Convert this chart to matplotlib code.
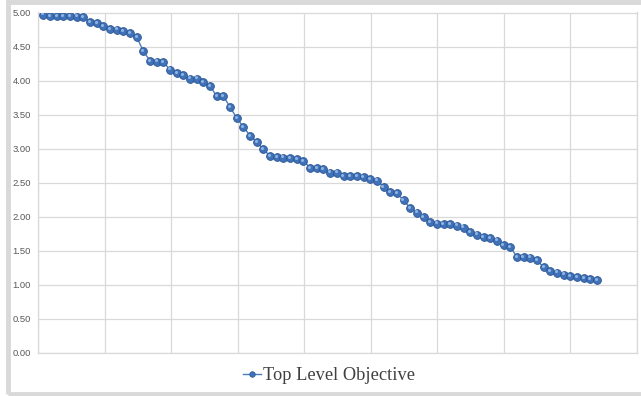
import matplotlib.pyplot as plt
import matplotlib.transforms as mtransforms
from matplotlib.patches import Rectangle
import numpy as np

# values, one point per step
objective = [4.97, 4.95, 4.95, 4.95, 4.95, 4.94, 4.93, 4.86, 4.84, 4.80,
             4.76, 4.75, 4.73, 4.70, 4.64, 4.43, 4.29, 4.28, 4.27, 4.16,
             4.11, 4.08, 4.03, 4.03, 3.98, 3.92, 3.77, 3.77, 3.61, 3.45,
             3.32, 3.19, 3.10, 2.99, 2.89, 2.88, 2.87, 2.86, 2.85, 2.82,
             2.72, 2.72, 2.70, 2.65, 2.65, 2.60, 2.60, 2.60, 2.58, 2.55,
             2.53, 2.44, 2.36, 2.35, 2.24, 2.13, 2.06, 1.99, 1.92, 1.90,
             1.89, 1.89, 1.87, 1.84, 1.77, 1.74, 1.70, 1.69, 1.65, 1.58,
             1.56, 1.41, 1.41, 1.40, 1.36, 1.26, 1.20, 1.18, 1.15, 1.13,
             1.11, 1.10, 1.08, 1.07]
series_name = 'Top Level Objective'
y_ticks = [0.0, 0.5, 1.0, 1.5, 2.0, 2.5, 3.0, 3.5, 4.0, 4.5, 5.0]

x = np.arange(len(objective))

fig = plt.figure(figsize=(6.41, 3.96), dpi=100)
fig.patch.set_facecolor('white')
# grey chart-area frame
fig.patches.append(Rectangle((8/641, 2/396), 1.0, 392/396, transform=fig.transFigure,
                             fill=False, edgecolor='#d9d9d9', linewidth=3.5))

ax = fig.add_axes([38/641, 43/396, 599/641, 340.5/396])
xmin, xmax = -0.8, 89.0
ax.set_xlim(xmin, xmax)
ax.set_ylim(0, 5)

ax.plot(x, objective, color='#4a7ebb', linewidth=1.0, marker='o', markersize=5.6,
        markerfacecolor='#3f72b8', markeredgecolor='#2b5593', markeredgewidth=0.6,
        label=series_name, zorder=3)
# little highlight so the markers look like beads
hl = mtransforms.offset_copy(ax.transData, fig=fig, x=-0.8, y=0.9, units='points')
ax.plot(x, objective, linestyle='none', marker='o', markersize=2.2,
        markerfacecolor='#8fb4e3', markeredgewidth=0, transform=hl, zorder=4)

ax.set_yticks(y_ticks)
ax.set_yticklabels(['%.2f' % v for v in y_ticks], fontsize=6.8, color='#595959',
                   family='Liberation Sans')
ax.set_xticks(np.linspace(xmin, xmax, 10))
ax.set_xticklabels([])
ax.tick_params(length=0, pad=5)
ax.grid(True, color='#d9d9d9', linewidth=0.9)
ax.set_axisbelow(True)
for s in ax.spines.values():
    s.set_color('#d9d9d9')
    s.set_linewidth(0.9)

h, = ax.plot([], [], color='#4a7ebb', linewidth=1.0, marker='o', markersize=4,
             markerfacecolor='#3f72b8', markeredgecolor='#2b5593', markeredgewidth=0.5)
fig.legend([h], [series_name], loc='center', bbox_to_anchor=(329/641, 1 - 376/396),
           frameon=False, handlelength=1.0, handletextpad=0.1,
           prop={'family': 'Liberation Serif', 'size': 13.2}, labelcolor='#404040')

fig.savefig('out.png', dpi=100)
